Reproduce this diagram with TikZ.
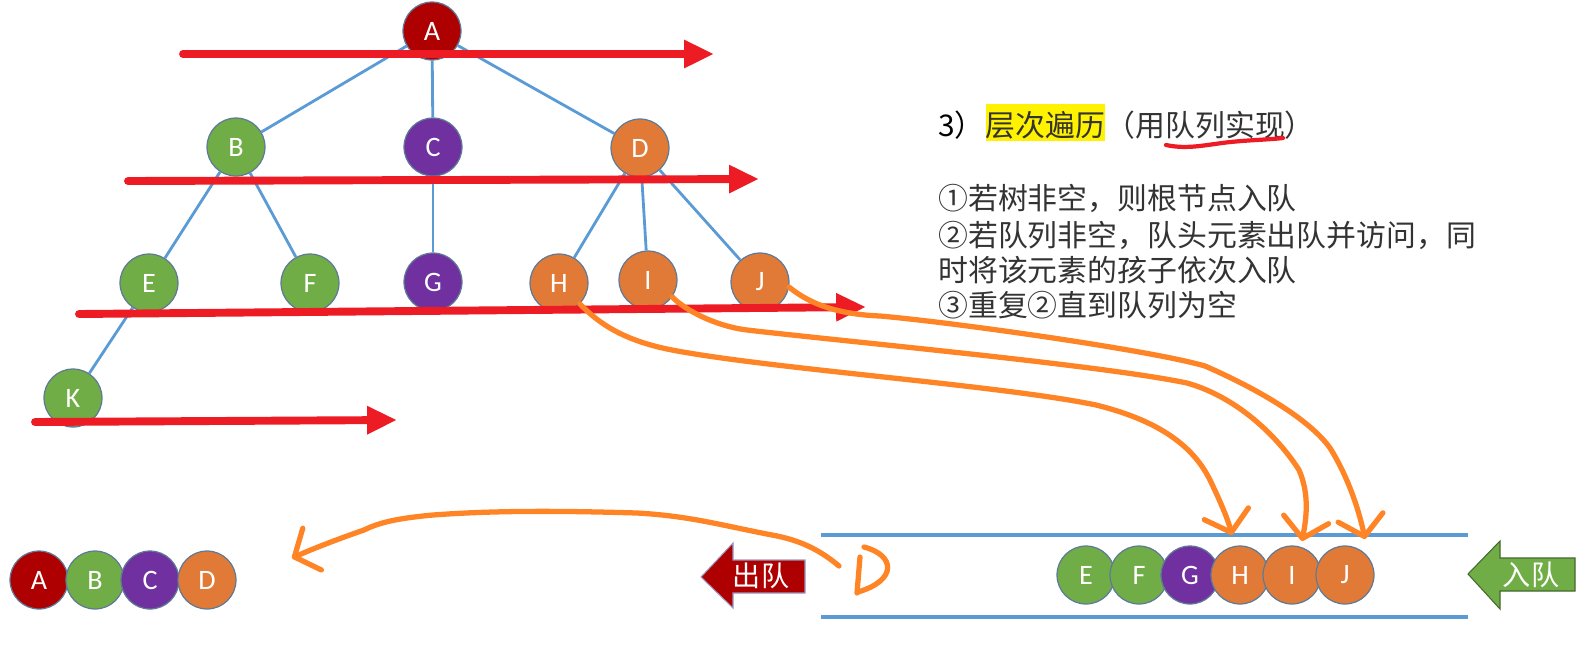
\documentclass[tikz,border=0pt]{standalone}
\usepackage{fontspec}
\setmainfont{Noto Sans CJK SC}
\newfontfamily\letra{Carlito}
\usepackage{tikz}
\usetikzlibrary{calc,arrows.meta}
\usetikzlibrary{positioning}
\definecolor{bt-red}{HTML}{AE0000}
\definecolor{bt-green}{HTML}{70AD47}
\definecolor{bt-purple}{HTML}{7030A0}
\definecolor{bt-orange}{HTML}{E27A37}
\definecolor{bt-edge}{HTML}{5F7A96}
\definecolor{bt-blue}{HTML}{5B9BD5}
\definecolor{bt-line}{HTML}{ED1C24}
\definecolor{bt-ink}{HTML}{FF8426}
\definecolor{bt-text}{HTML}{333333}

\begin{document}
\begin{tikzpicture}[x=0.02cm, y=-0.02cm,
    no/.style={circle, draw=bt-edge, line width=0.7pt, minimum size=33pt, inner sep=0pt, text=white, font=\letra\fontsize{16}{16}\selectfont},
    ramo/.style={bt-blue, line width=1.6pt},
    nivel/.style={-{Triangle[length=17pt, width=15pt]}, bt-line, line width=4.5pt, line cap=round},
    traco/.style={bt-ink, line width=3pt, line cap=round, line join=round},
    seta/.style={traco, -{Straight Barb[length=11pt, width=26pt, round]}},
    texto/.style={anchor=base west, inner sep=0pt, text=bt-text, font=\fontsize{17}{20}\selectfont},
    bloco/.style={line width=0.6pt, line join=miter}]

    \useasboundingbox (0,0) rectangle (1583,664);

    % Nós da árvore, nível a nível
    \node[no, fill=bt-red] (A) at (432,31) {A};
    \node[no, fill=bt-green] (B) at (236,147) {B};
    \node[no, fill=bt-purple] (C) at (433,147) {C};
    \node[no, fill=bt-orange] (D) at (640,148) {D};
    \node[no, fill=bt-green] (E) at (149,283) {E};
    \node[no, fill=bt-green] (F) at (310,283) {F};
    \node[no, fill=bt-purple] (G) at (433,282) {G};
    \node[no, fill=bt-orange] (H) at (559,283) {H};
    \node[no, fill=bt-orange] (I) at (648,280) {I};
    \node[no, fill=bt-orange] (J) at (760,282) {J};
    \node[no, fill=bt-green] (K) at (73,398) {K};

    % Ramos azuis entre pai e filhos
    \draw[ramo] (A) -- (B);
    \draw[ramo] (A) -- (C);
    \draw[ramo] (A) -- (D);
    \draw[ramo] (B) -- (E);
    \draw[ramo] (B) -- (F);
    \draw[ramo] (C) -- (G);
    \draw[ramo] (D) -- (H);
    \draw[ramo] (D) -- (I);
    \draw[ramo] (D) -- (J);
    \draw[ramo] (E) -- (K);

    % Setas vermelhas de cada nível
    \coordinate (n1-ini) at (183,54);   \coordinate (n1-fim) at (714,54);
    \coordinate (n2-ini) at (128,181);  \coordinate (n2-fim) at (759,179);
    \coordinate (n3-ini) at (79,314);   \coordinate (n3-fim) at (866,307);
    \coordinate (n4-ini) at (35,422);   \coordinate (n4-fim) at (397,420);
    \draw[nivel] (n1-ini) -- (n1-fim);
    \draw[nivel] (n2-ini) -- (n2-fim);
    \draw[nivel] (n3-ini) -- (n3-fim);
    \draw[nivel] (n4-ini) -- (n4-fim);

    % Título com realce amarelo
    \node[texto, text=black] (tit3) at (938,136) {3）};
    \node[texto, fill=yellow, text height=15pt, text depth=0pt, inner ysep=3pt] (titcor) at (tit3.base east) {层次遍历};
    \node[texto] (titfila) at (titcor.base east) {（用队列实现）};
    \draw[bt-line, line width=2.4pt, line cap=round] (1166,145) .. controls (1185,149) and (1200,146) .. (1222,143) .. controls (1245,140) and (1265,140) .. (1283,138);

    % Passos do algoritmo
    \node[texto] (passo1) at (938,209.5) {①若树非空，则根节点入队};
    \node[texto] (passo2) at (938,246) {②若队列非空，队头元素出队并访问，同};
    \node[texto] (passo3) at (938,281.5) {时将该元素的孩子依次入队};
    \node[texto] (passo4) at (938,316) {③重复②直到队列为空};

    % Fila: bordas azuis
    \draw[bt-blue, line width=2.2pt] (821,535) -- (1468,535);
    \draw[bt-blue, line width=2.2pt] (821,617) -- (1468,617);

    % Conteúdo da fila
    \node[no, fill=bt-green] (qE) at (1086,575) {E};
    \node[no, fill=bt-green] (qF) at (1139,575) {F};
    \node[no, fill=bt-purple] (qG) at (1190,575) {G};
    \node[no, fill=bt-orange] (qH) at (1240,575) {H};
    \node[no, fill=bt-orange] (qI) at (1292,575) {I};
    \node[no, fill=bt-orange] (qJ) at (1345,575) {J};

    % Sequência já visitada
    \node[no, fill=bt-red] (vA) at (39,580) {A};
    \node[no, fill=bt-green] (vB) at (95,580) {B};
    \node[no, fill=bt-purple] (vC) at (150,580) {C};
    \node[no, fill=bt-orange] (vD) at (207,580) {D};

    % Setas largas de saída e entrada
    \filldraw[bloco, fill=bt-red, draw=black!60!blue!40] (701,577) -- (733,543) -- (733,560) -- (805,560) -- (805,593) -- (733,593) -- (733,608) -- cycle;
    \node[text=white, font=\fontsize{16}{16}\selectfont] (saida) at (761,576) {出队};
    \filldraw[bloco, fill=bt-green, draw=bt-green!60!black] (1468,574) -- (1500,541) -- (1500,558) -- (1575,558) -- (1575,591) -- (1500,591) -- (1500,609) -- cycle;
    \node[text=white, font=\fontsize{16}{16}\selectfont] (entrada) at (1531,575) {入队};

    % Traços à mão: filhos de D entram na fila
    \coordinate (fH) at (1232,535);
    \coordinate (fI) at (1302,541);
    \coordinate (fJ) at (1365,539);
    \draw[seta] (H.-45) .. controls (600,325) and (625,340) .. (667,349) .. controls (760,368) and (1000,385) .. (1096,405) .. controls (1165,422) and (1195,450) .. (1210,480) .. controls (1222,505) and (1228,520) .. (fH);
    \draw[seta] (I.-35) .. controls (685,310) and (715,326) .. (747,330) .. controls (850,342) and (1100,365) .. (1187,383) .. controls (1240,398) and (1280,440) .. (1299,470) .. controls (1310,495) and (1306,520) .. (fI);
    \draw[seta] (J.-10) .. controls (805,300) and (830,314) .. (880,316) .. controls (950,322) and (1150,350) .. (1205,366) .. controls (1260,390) and (1310,420) .. (1330,448) .. controls (1350,480) and (1360,515) .. (fJ);

    % Traço à mão: saída da fila
    \coordinate (s-ini) at (839,566);
    \coordinate (s-fim) at (292,558);
    \draw[seta] (s-ini) .. controls (820,550) and (800,540) .. (772,535) .. controls (720,525) and (690,516) .. (637,513) .. controls (570,511) and (500,510) .. (433,515) .. controls (400,518) and (380,522) .. (364,530) .. controls (335,540) and (310,550) .. (s-fim);
    \draw[traco] (860,557) -- (857,593);
    \draw[traco] (864,547) .. controls (895,555) and (898,580) .. (858,592);

\end{tikzpicture}
\end{document}
